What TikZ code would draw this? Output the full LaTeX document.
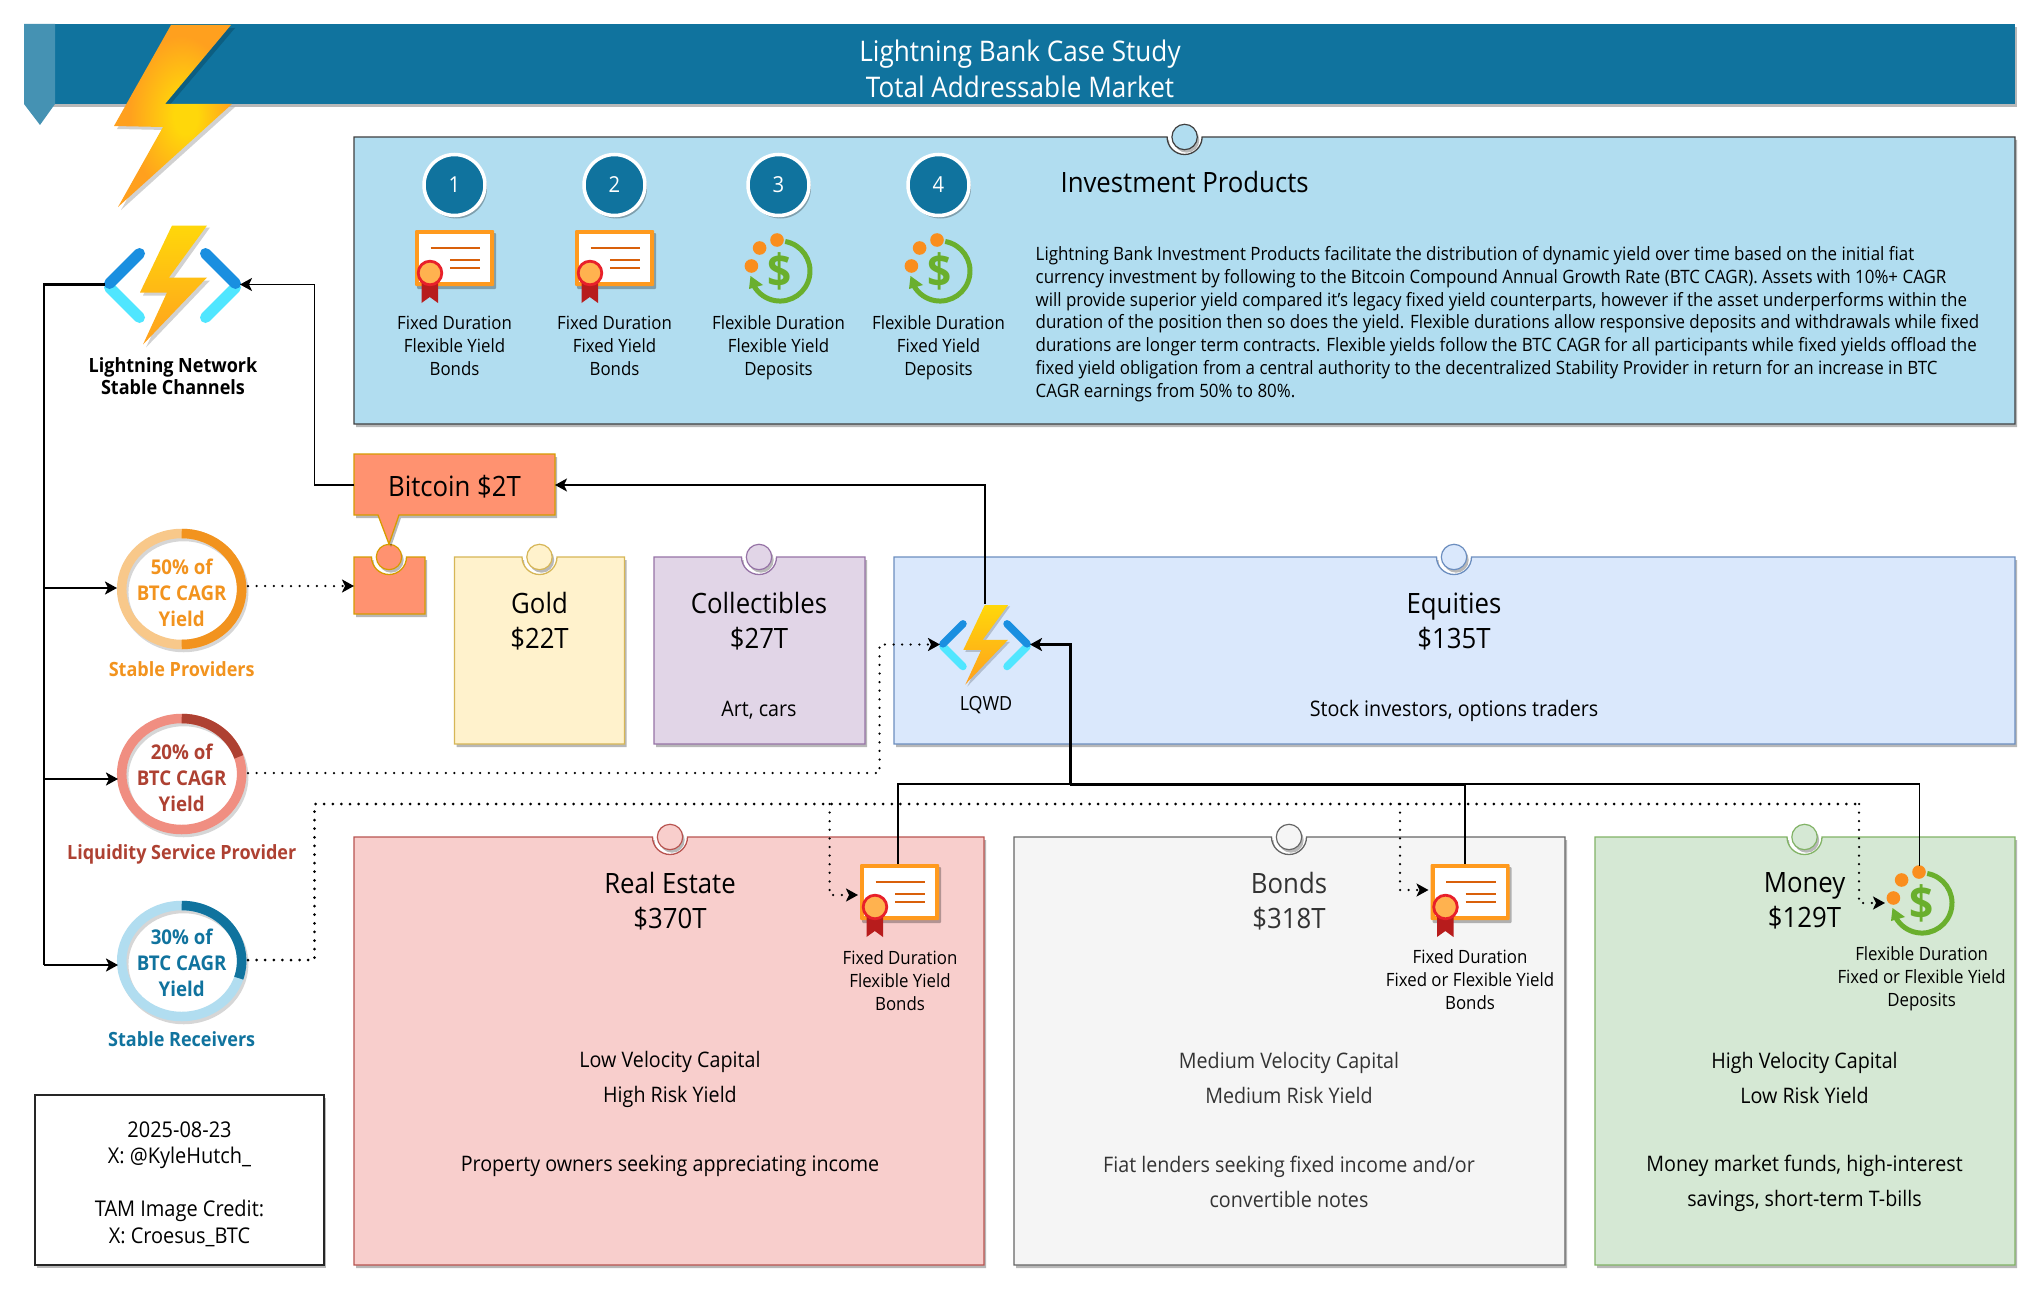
\documentclass[tikz,border=0pt]{standalone}
\usepackage{fontspec}
\setmainfont{Open Sans}[FakeStretch=0.92]
\usetikzlibrary{arrows.meta,shadows,calc}
\definecolor{teal1}{HTML}{10739E}
\definecolor{teal2}{HTML}{4592B3}
\definecolor{ibl}{HTML}{B1DDF0}
\definecolor{gold1}{HTML}{FFF2CC}\definecolor{gold2}{HTML}{D6B656}
\definecolor{pur1}{HTML}{E1D5E7}\definecolor{pur2}{HTML}{9673A6}
\definecolor{blu1}{HTML}{DAE8FC}\definecolor{blu2}{HTML}{6C8EBF}
\definecolor{red1}{HTML}{F8CECC}\definecolor{red2}{HTML}{B85450}
\definecolor{gry1}{HTML}{F5F5F5}\definecolor{gry2}{HTML}{666666}
\definecolor{grn1}{HTML}{D5E8D4}\definecolor{grn2}{HTML}{82B366}
\definecolor{btc1}{HTML}{FF9270}\definecolor{btc2}{HTML}{D79B00}
\definecolor{ora1}{HTML}{F2931E}\definecolor{ora2}{HTML}{F8C88A}
\definecolor{lsp1}{HTML}{AE4132}\definecolor{lsp2}{HTML}{F08E81}
\definecolor{boltY}{HTML}{FFD70A}\definecolor{boltO}{HTML}{FFA01E}
\definecolor{chevA}{HTML}{1A8FE0}\definecolor{chevB}{HTML}{50E6FF}
\definecolor{certO}{HTML}{FF9A1E}\definecolor{certL}{HTML}{D9600A}
\definecolor{sealR}{HTML}{E8202A}\definecolor{sealF}{HTML}{FFB24F}\definecolor{ribR}{HTML}{B71C1C}
\definecolor{dolG}{HTML}{6AAF2D}\definecolor{dotO}{HTML}{FA8E1E}
\pgfdeclareradialshading{boltshade}{\pgfpoint{6bp}{0bp}}{color(0bp)=(boltY); color(5bp)=(boltY); color(22bp)=(boltO); color(50bp)=(boltO)}
\tikzset{
  softshadow/.style={drop shadow={shadow xshift=2pt,shadow yshift=-3pt,opacity=.28,fill=black}},
  txs/.style={font=\fontsize{18.3pt}{22.9pt}\selectfont,align=center,inner sep=0pt},
  txm/.style={font=\fontsize{21.4pt}{35pt}\selectfont,align=center,inner sep=0pt},
  txb/.style={font=\fontsize{28pt}{35pt}\selectfont,align=center,inner sep=0pt},
  txr/.style={font=\bfseries\fontsize{20.3pt}{26pt}\selectfont,align=center,inner sep=0pt},
  txl/.style={font=\bfseries\fontsize{19.6pt}{26pt}\selectfont,align=center,inner sep=0pt},
  solidline/.style={draw=black,line width=1.8pt,-{Stealth[length=12pt,width=13pt,inset=3pt]}},
  heavyline/.style={draw=black,line width=2.6pt,-{Stealth[length=12pt,width=13pt,inset=3pt]}},
  plainline/.style={draw=black,line width=1.8pt},
  dotline/.style={draw=black,line width=2.5pt,line cap=round,dash pattern=on 0pt off 8.6pt,-{Stealth[length=12pt,width=13pt,inset=3pt]}},
  dotplain/.style={draw=black,line width=3pt,line cap=round,dash pattern=on 0pt off 8.6pt},
}
% pinned card: name, x1,y1,x2,y2, pin x, fill, draw
\newcommand{\pincard}[8]{%
  \node[inner sep=0pt,outer sep=0pt,minimum width=#4pt-#2pt,minimum height=#5pt-#3pt] (#1) at ({(#2+#4)/2},{(#3+#5)/2}) {};
  \path[fill=#7,draw=#8,line width=1.3pt,softshadow]
    (#2,#3) -- ({#6-17.5},#3) arc[start angle=180,end angle=360,radius=17.5pt] -- (#4,#3) -- (#4,#5) -- (#2,#5) -- cycle;
  \path[fill=#7,draw=#8,line width=1.2pt,softshadow] (#6,#3) circle[radius=12.7pt];
}
% function icon: name, cx, cy, scale, line width
\newcommand{\fnicon}[5]{%
  \node[inner sep=0pt,outer sep=0pt,minimum width=#4*135pt,minimum height=#4*119pt] (#1) at (#2,#3) {};
  \begin{scope}[shift={(#2,#3)},scale=#4]
    \fill[black,opacity=.18] (2.5,-57) -- (37.5,-57) -- (-0.5,-4) -- (37.5,-4) -- (-26.5,63) -- (-2.5,11) -- (-29.5,11) -- cycle;
    \draw[chevB,line width=#5pt,line cap=round] (-63,3) -- (-33,33);
    \draw[chevB,line width=#5pt,line cap=round] (63,3) -- (33,33);
    \draw[chevA,line width=#5pt,line cap=round] (-63,-1) -- (-33,-31);
    \draw[chevA,line width=#5pt,line cap=round] (63,-1) -- (33,-31);
    \shade[top color=boltY,bottom color=boltO] (-0.5,-59) -- (34.5,-59) -- (-3.5,-7) -- (34.5,-7) -- (-29.5,60) -- (-5.5,8) -- (-32.5,8) -- cycle;
  \end{scope}
}
% certificate: name, cx, cy
\newcommand{\certicon}[3]{%
  \node[inner sep=0pt,outer sep=0pt,minimum width=79pt,minimum height=56pt] (#1) at (#2,#3) {};
  \begin{scope}[shift={(#2,#3)}]
    \fill[certO,rounded corners=1pt,softshadow] (-39.5,-28) rectangle (39.5,28);
    \fill[white] (-35.5,-24) rectangle (35.5,24);
    \draw[certL,line width=2.6pt] (-24,-10) -- (25.5,-10);
    \draw[certL,line width=2.6pt] (-4.5,2) -- (25.5,2);
    \draw[certL,line width=2.6pt] (-4.5,10) -- (25.5,10);
    \fill[ribR] (-33,24) -- (-16.5,24) -- (-16.5,45) -- (-24.7,39) -- (-33,45) -- cycle;
    \path[fill=sealF,draw=sealR,line width=2.8pt] (-24.5,15) circle[radius=11.8pt];
  \end{scope}
}
% dollar icon: name, cx, cy
\newcommand{\dollaricon}[3]{%
  \node[inner sep=0pt,outer sep=0pt,minimum width=64pt,minimum height=64pt] (#1) at (#2,#3) {};
  \begin{scope}[shift={(#2,#3)}]
    \draw[dolG,line width=5pt] (5.2,-29.5) arc[start angle=80,end angle=-150,radius=30pt];
    \fill[dolG] (-29.5,5) -- (-17,14) -- (-31,18) -- cycle;
    \node[text=dolG,font=\bfseries\fontsize{46pt}{46pt}\selectfont,inner sep=0pt] (#1dollar) at (0,0) {\$};
    \fill[dotO] (-3,-31) circle[radius=6.8pt];
    \fill[dotO] (-20.4,-23) circle[radius=6.8pt];
    \fill[dotO] (-28.6,-5) circle[radius=6.8pt];
  \end{scope}
}
% ring: name, cx, cy, end angle, dark, light
\newcommand{\ringnode}[6]{%
  \draw[black,opacity=.16,line width=9.5pt] ({#2+2},{#3+3}) ellipse[x radius=60pt,y radius=55.5pt];
  \draw[draw=#6,line width=9.5pt] (#2,#3) ellipse[x radius=60pt,y radius=55.5pt];
  \draw[#5,line width=9.5pt] ({#2},{#3-55.5}) arc[start angle=90,end angle=#4,x radius=60pt,y radius=55.5pt];
  \node[inner sep=0pt,outer sep=0pt,minimum width=129pt,minimum height=120pt] (#1) at (#2,#3) {};
}
\begin{document}
\begin{tikzpicture}[x=1pt,y=-1pt]
\useasboundingbox (0,0) rectangle (2041,1292);
\fill[white] (0,0) rectangle (2041,1292);
% banner
\path[fill=teal1,softshadow] (24,24) rectangle (2015,104);
\path[fill=teal2] (24,24) -- (55,24) -- (55,104) -- (40,125) -- (24,104) -- cycle;
\node[text=white,font=\fontsize{28.4pt}{35.5pt}\selectfont,align=center,inner sep=0pt] (title) at (1020,69) {Lightning Bank Case Study\\Total Addressable Market};
% big bolt
\fill[black,opacity=.18] (174,28) -- (235,28) -- (168,107) -- (235,107) -- (121,210) -- (166,130) -- (117,129) -- cycle;
\shade[shading=boltshade] (171,25) -- (231,25) -- (165,104) -- (232,104) -- (118,207) -- (163,127) -- (114,126) -- cycle;
% investment panel
\pincard{panel}{354}{137}{2015}{424}{1184.6}{ibl}{black!75}
\node[font=\fontsize{28pt}{35pt}\selectfont,inner sep=0pt] (panelhead) at (1184.6,182.5) {Investment Products};
\node[anchor=west,align=left,inner sep=0pt,font=\fontsize{18.4pt}{22.75pt}\selectfont] (paneltext) at (1035.5,324) {Lightning Bank Investment Products facilitate the distribution of dynamic yield over time based on the initial fiat\\
currency investment by following to the Bitcoin Compound Annual Growth Rate (BTC CAGR). Assets with 10\%+ CAGR\\
will provide superior yield compared it's legacy fixed yield counterparts, however if the asset underperforms within the\\
duration of the position then so does the yield. Flexible durations allow responsive deposits and withdrawals while fixed\\
durations are longer term contracts. Flexible yields follow the BTC CAGR for all participants while fixed yields offload the\\
fixed yield obligation from a central authority to the decentralized Stability Provider in return for an increase in BTC\\
CAGR earnings from 50\% to 80\%.};
% numbered
\foreach \nm/\xx/\lab in {n1/454.5/1,n2/614.5/2,n3/778.5/3,n4/938.5/4}{
  \node[circle,fill=teal1,draw=white,line width=3.5pt,minimum size=61pt,inner sep=0pt,text=white,font=\fontsize{22pt}{22pt}\selectfont,softshadow] (\nm) at (\xx,185) {\lab};
}
\certicon{c1}{454.5}{258}
\certicon{c2}{614.5}{258}
\dollaricon{c3}{780}{271}
\dollaricon{c4}{940}{271}
\node[txs] (l1) at (454.5,346) {Fixed Duration\\Flexible Yield\\Bonds};
\node[txs] (l2) at (614.5,346) {Fixed Duration\\Fixed Yield\\Bonds};
\node[txs] (l3) at (778.5,347.5) {Flexible Duration\\Flexible Yield\\Deposits};
\node[txs] (l4) at (938.5,347.5) {Flexible Duration\\Fixed Yield\\Deposits};
% LN icon
\fnicon{lnsc}{172.5}{284.5}{1}{11}
\node[align=center,inner sep=0pt,font=\bfseries\fontsize{19.6pt}{22.5pt}\selectfont] (lnlabel) at (173,376) {Lightning Network\\Stable Channels};
% cards
\pincard{goldc}{454.5}{557}{624.5}{744}{539.5}{gold1}{gold2}
\pincard{collc}{654}{557}{865}{744}{759}{pur1}{pur2}
\pincard{equc}{894}{557}{2015}{744}{1454}{blu1}{blu2}
\pincard{rec}{354}{837}{984}{1265}{670}{red1}{red2}
\pincard{bondc}{1014}{837}{1565}{1265}{1289}{gry1}{gry2}
\pincard{monc}{1595}{837}{2015}{1265}{1804.5}{grn1}{grn2}
\pincard{btcbox}{354}{557}{425}{614}{389}{btc1}{btc2}
% bitcoin callout
\path[fill=btc1,draw=btc2,line width=1.3pt,softshadow] (354,454) -- (555,454) -- (555,515) -- (399,515) -- (389,544) -- (378,515) -- (354,515) -- cycle;
\node[inner sep=0pt,outer sep=0pt,minimum width=201pt,minimum height=61pt] (btc) at (454.5,485) {};
\node[font=\fontsize{28pt}{35pt}\selectfont,inner sep=0pt] (btctext) at (454.5,487) {Bitcoin \$2T};
% card texts
\node[txb] (t1) at (539.5,621.5) {Gold\\\$22T};
\node[txb] (t2) at (759,621.5) {Collectibles\\\$27T};
\node[txm] (t2b) at (759,710.5) {Art, cars};
\node[txb] (t3) at (1454,621.5) {Equities\\\$135T};
\node[txm] (t3b) at (1454,711) {Stock investors, options traders};
\node[txb] (t4) at (670,901) {Real Estate\\\$370T};
\node[txm] (t4b) at (670,1079.5) {Low Velocity Capital\\High Risk Yield};
\node[txm] (t4c) at (670,1166) {Property owners seeking appreciating income};
\node[txb,text=black!80] (t5) at (1289,901) {Bonds\\\$318T};
\node[txm,text=black!80] (t5b) at (1289,1078) {Medium Velocity Capital\\Medium Risk Yield};
\node[txm,text=black!80] (t5c) at (1289,1182) {Fiat lenders seeking fixed income and/or\\convertible notes};
\node[txb] (t6) at (1804.5,901) {Money\\\$129T};
\node[txm] (t6b) at (1804.5,1077.5) {High Velocity Capital\\Low Risk Yield};
\node[txm] (t6c) at (1804.5,1183.5) {Money market funds, high-interest\\savings, short-term T-bills};
% rings
\ringnode{sp}{181.7}{589}{-90}{ora1}{ora2}
\ringnode{lsp}{181.7}{774}{18}{lsp1}{lsp2}
\ringnode{sr}{181.7}{961}{-18}{teal1}{ibl}
\node[txr,text=ora1] (sptx) at (181.7,593) {50\% of\\BTC CAGR\\Yield};
\node[txr,text=lsp1] (lsptx) at (181.7,778) {20\% of\\BTC CAGR\\Yield};
\node[txr,text=teal1] (srtx) at (181.7,963) {30\% of\\BTC CAGR\\Yield};
\node[txl,text=ora1] (splab) at (181.7,669) {Stable Providers};
\node[txl,text=lsp1] (lsplab) at (181.7,854) {Liquidity Service Provider};
\node[txl,text=teal1] (srlab) at (181.7,1039) {Stable Receivers};
% LQWD icon
\fnicon{lqwd}{985}{644.5}{0.667}{7.5}
\node[font=\fontsize{19.5pt}{23pt}\selectfont,inner sep=0pt] (lqlab) at (986,705.5) {LQWD};
% icons in cards
\certicon{c5}{899.5}{892}
\certicon{c6}{1470}{892}
\dollaricon{c7}{1922}{903}
\node[txs] (l5) at (900,981) {Fixed Duration\\Flexible Yield\\Bonds};
\node[txs] (l6) at (1470,980) {Fixed Duration\\Fixed or Flexible Yield\\Bonds};
\node[txs] (l7) at (1921.6,979) {Flexible Duration\\Fixed or Flexible Yield\\Deposits};
% info box
\node[draw=black!85,fill=white,line width=1.3pt,minimum width=289pt,minimum height=170pt,inner sep=0pt,softshadow] (info) at (179.5,1180) {};
\node[inner sep=0pt,align=center,font=\fontsize{21.7pt}{26.5pt}\selectfont] (infotext) at (179.5,1184) {2025-08-23\\X: @KyleHutch\_\\[26.5pt]TAM Image Credit:\\X: Croesus\_BTC};
% connectors
\coordinate (trunk) at (44,284.5);
\draw[plainline,line width=2.6pt] (lnsc.west) -- (trunk) -- (44,965);
\draw[heavyline] (44,588) -- (117,588);
\draw[heavyline] (44,779) -- (118,779);
\draw[heavyline] (44,965) -- (118,965);
\draw[solidline] (btc.west) -- (314.5,485) -- (314.5,284.5) -- (lnsc.east);
\draw[solidline] (lqwd.north) ++(0,-1) -- (985,485) -- (btc.east);
% to lqwd
\coordinate (busL) at (897.7,784);
\coordinate (busM) at (1070,784);
\coordinate (busB) at (1465,784);
\coordinate (busR) at (1919.4,784);
\draw[plainline] (897.7,864) -- (busL) -- (busM);
\draw[plainline] (1465,864) -- (busB);
\draw[plainline] (1919.4,866) -- (busR) -- (busB);
\draw[plainline,line width=3pt] (busB) -- (busM);
\draw[heavyline,line width=3pt] (busM) -- (1070,644.5) -- (lqwd.east);
% dotted
\draw[dotline] (248,586) -- (btcbox.west |- 0,586);
\draw[dotline] (248,773) -- (879.5,773) -- (879.5,644.5) -- (lqwd.west);
\draw[dotplain] (248,960) -- (314.5,960) -- (314.5,804) -- (1859,804);
\draw[dotline] (829.6,804) -- (829.6,895) -- (858,895);
\draw[dotline] (1400,804) -- (1400,890) -- (1428.5,890);
\draw[dotline] (1859,804) -- (1859,903) -- (1885,903);
\end{tikzpicture}
\end{document}
